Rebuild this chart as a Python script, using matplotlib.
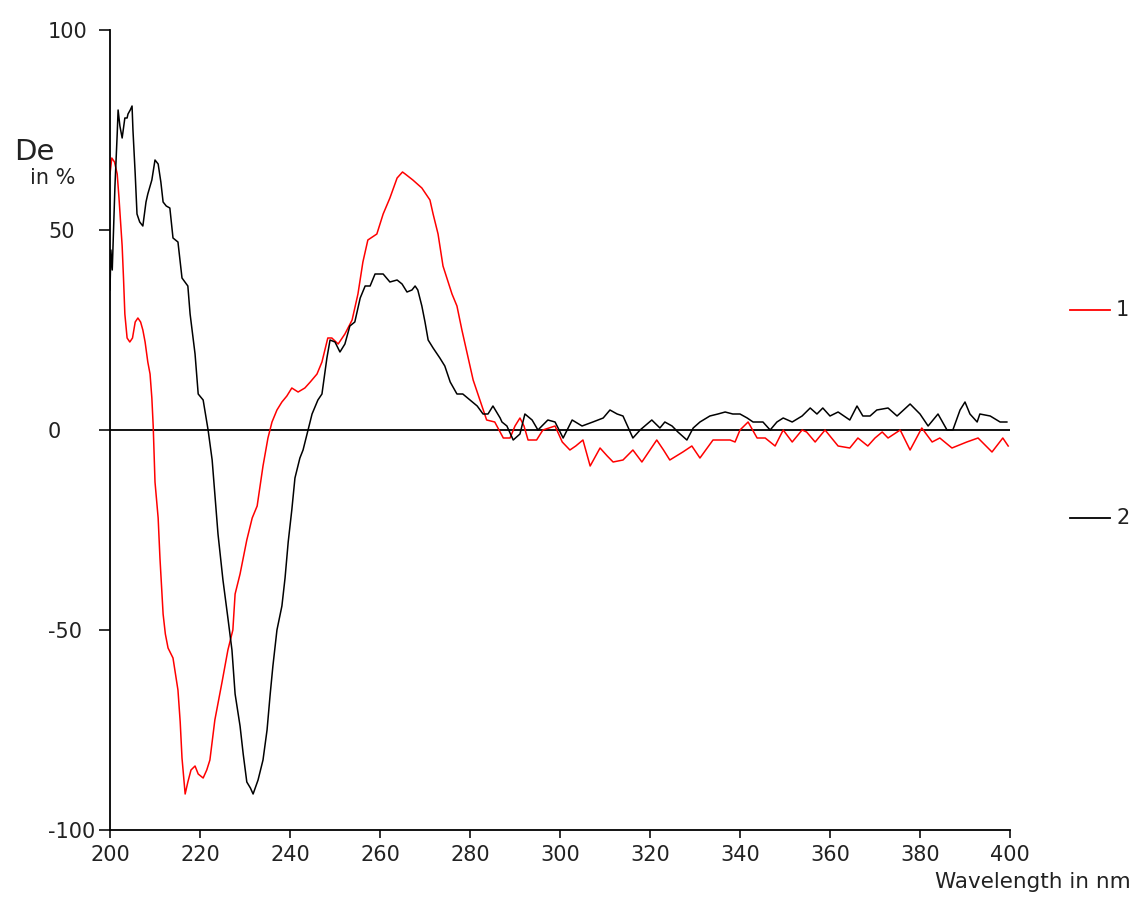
import matplotlib
matplotlib.use('Agg')
import matplotlib.pyplot as plt
from matplotlib.lines import Line2D

plt.rcParams['axes.unicode_minus'] = False

# spectrum 1 (red)
wl_1 = [200.0, 200.4, 201.0, 201.6, 202.0, 202.7, 203.0, 203.3, 203.8, 204.4,
        205.0, 205.6, 206.2, 206.8, 207.3, 207.8, 208.4, 208.9, 209.3, 209.6,
        210.0, 210.7, 211.1, 211.8, 212.3, 212.9, 214.0, 215.1, 215.6, 216.0,
        216.7, 217.3, 218.0, 218.9, 219.6, 220.7, 221.5, 222.2, 223.3, 224.9,
        226.2, 227.3, 227.8, 228.9, 230.4, 231.6, 232.7, 234.0, 235.1, 236.0,
        237.1, 238.2, 239.3, 240.4, 241.8, 243.3, 244.5, 246.0, 247.1, 248.4,
        249.3, 250.7, 252.2, 253.8, 255.1, 256.2, 257.3, 259.3, 260.7, 262.2,
        263.8, 265.0, 265.6, 267.3, 269.3, 271.1, 271.8, 272.9, 274.0, 276.0,
        277.1, 278.2, 279.6, 280.7, 282.2, 283.7, 285.5, 287.4, 288.9, 290.0,
        291.1, 292.0, 292.9, 294.8, 296.2, 298.9, 300.5, 302.2, 303.5, 305.1,
        306.7, 308.9, 310.5, 311.8, 314.0, 316.2, 318.2, 320.0, 321.5, 323.0,
        324.4, 327.3, 329.3, 331.1, 334.0, 337.8, 338.9, 340.0, 341.8, 343.8,
        345.6, 347.8, 349.6, 351.6, 353.8, 354.8, 356.7, 358.9, 361.8, 364.4,
        366.2, 368.4, 370.0, 371.6, 372.9, 375.6, 377.8, 380.4, 382.7, 384.4,
        387.1, 390.4, 392.9, 396.0, 398.4, 399.6]
de_1 = [64, 68, 67, 64, 58, 46, 38, 29, 23, 22,
        23, 27, 28, 27, 25, 22, 17, 14, 8, 1,
        -13, -22, -32, -46, -51, -54.5, -57, -65, -73, -82,
        -91, -88, -85, -84, -86, -87, -85, -82.5, -72.5, -63,
        -55, -50, -41, -36, -27.5, -22, -19, -9, -2, 2,
        5, 7, 8.5, 10.5, 9.5, 10.5, 12, 14, 17, 23,
        23, 21.5, 24, 27.5, 34, 42, 47.5, 49, 54, 58,
        63, 64.5, 64, 62.5, 60.5, 57.5, 54, 49, 41, 34,
        31, 25, 18, 12.5, 7.5, 2.5, 2, -2, -2, 1,
        3, 1, -2.5, -2.5, 0, 1, -3, -5, -4, -2.5,
        -9, -4.5, -6.5, -8, -7.5, -5, -8, -5, -2.5, -5,
        -7.5, -5.5, -4, -7, -2.5, -2.5, -3, 0, 2, -2,
        -2, -4, 0, -3, 0, -0.5, -3, 0, -4, -4.5,
        -2, -4, -2, -0.5, -2, 0, -5, 0.5, -3, -2,
        -4.5, -3, -2, -5.5, -2, -4]

# spectrum 2 (black)
wl_2 = [200.0, 200.2, 200.5, 201.1, 201.6, 201.8, 202.2, 202.7, 203.3, 203.8,
        204.0, 204.5, 204.9, 205.1, 205.6, 206.0, 206.6, 207.3, 208.0, 208.4,
        209.3, 210.0, 210.7, 211.3, 211.8, 212.5, 213.3, 214.0, 215.1, 216.0,
        217.3, 217.8, 218.9, 219.6, 220.7, 221.8, 222.7, 223.3, 224.0, 225.1,
        226.2, 227.1, 227.8, 228.9, 229.6, 230.4, 231.2, 231.8, 232.9, 234.0,
        234.9, 235.6, 236.2, 237.1, 238.2, 238.9, 239.6, 240.4, 241.1, 242.2,
        242.9, 244.0, 244.9, 246.2, 247.1, 248.2, 248.9, 250.0, 251.1, 252.2,
        253.3, 254.4, 255.6, 256.7, 257.8, 258.9, 260.7, 262.2, 263.8, 264.9,
        266.0, 267.1, 267.8, 268.4, 269.3, 270.0, 270.7, 271.8, 273.3, 274.4,
        275.6, 277.1, 278.4, 280.0, 281.6, 282.9, 284.0, 285.1, 286.7, 287.1,
        288.2, 289.6, 291.1, 292.2, 293.8, 295.1, 297.3, 298.9, 300.7, 302.7,
        304.9, 307.3, 309.6, 311.1, 312.7, 314.0, 316.2, 317.8, 320.4, 322.2,
        323.3, 324.9, 326.2, 328.2, 329.6, 331.1, 333.3, 335.1, 336.7, 338.4,
        340.0, 341.6, 342.9, 345.1, 346.7, 348.2, 349.6, 351.6, 353.8, 355.6,
        357.1, 358.4, 360.0, 361.8, 364.4, 366.0, 367.3, 368.9, 370.4, 372.9,
        374.9, 377.8, 380.0, 381.8, 384.0, 386.0, 387.3, 388.9, 390.0, 391.1,
        392.7, 393.3, 395.6, 397.8, 399.3]
de_2 = [35, 45, 40, 61, 74, 80, 76, 73, 78, 78,
        79, 80, 81, 75, 64, 54, 52, 51, 57, 59,
        62.5, 67.5, 66.5, 62, 57, 56, 55.5, 48, 47, 38,
        36, 29, 19, 9, 7.5, 0, -7.5, -16, -26, -37.5,
        -47, -55, -66, -74, -81, -88, -89.5, -91, -87.5, -82.5,
        -75, -66, -59, -50, -44, -37, -28, -20, -12, -7,
        -5, 0, 4, 7.5, 9, 18, 22.5, 22, 19.5, 21.5,
        26, 27, 33, 36, 36, 39, 39, 37, 37.5, 36.5,
        34.5, 35, 36, 35, 31, 27, 22.5, 20.5, 18, 16,
        12, 9, 9, 7.5, 6, 4, 4, 6, 3, 2,
        1, -2.5, -1, 4, 2.5, 0, 2.5, 2, -2, 2.5,
        1, 2, 3, 5, 4, 3.5, -2, 0, 2.5, 0.5,
        2, 1, -0.5, -2.5, 0.5, 2, 3.5, 4, 4.5, 4,
        4, 3, 2, 2, 0, 2, 3, 2, 3.5, 5.5,
        4, 5.5, 3.5, 4.5, 2.5, 6, 3.5, 3.5, 5, 5.5,
        3.5, 6.5, 4, 1, 4, 0, 0, 5, 7, 4,
        2, 4, 3.5, 2, 2]

x_ticks = [200, 220, 240, 260, 280, 300, 320, 340, 360, 380, 400]
y_ticks = [-100, -50, 0, 50, 100]
labels = ['1', '2']
colors = ['#ff0000', 'black']

W, H = 1138, 897
fig = plt.figure(figsize=(W / 100, H / 100), dpi=100)
ax = fig.add_axes([110 / W, 1 - 830 / H, 900 / W, 800 / H])

ax.plot(wl_1, de_1, color=colors[0], lw=1.1)
ax.plot(wl_2, de_2, color=colors[1], lw=1.1)
ax.axhline(0, color='black', lw=1.3, zorder=1)

ax.set_xlim(200, 400)
ax.set_ylim(-100, 100)
ax.set_xticks(x_ticks)
ax.set_yticks(y_ticks)
ax.spines['top'].set_visible(False)
ax.spines['right'].set_visible(False)
for s in ('left', 'bottom'):
    ax.spines[s].set_linewidth(1.3)
ax.tick_params(direction='out', width=1.3, labelsize=15, colors='#222222')
ax.tick_params(axis='x', length=6, pad=5)
# y labels in the reference are left aligned, starting at x~48px
ax.tick_params(axis='y', length=8, pad=(110 - 11 - 48) * 0.72)
for t in ax.get_yticklabels():
    t.set_horizontalalignment('left')

fig.text(14 / W, 1 - 152 / H, 'De', fontsize=21, color='#222222', va='center')
fig.text(30 / W, 1 - 178 / H, 'in %', fontsize=15, color='#222222', va='center')
fig.text(1131 / W, 1 - 888 / H, 'Wavelength in nm', fontsize=15.5, color='#222222',
         ha='right', va='baseline')

# legend drawn by hand: two entries far apart at the right
for lab, col, ypx in zip(labels, colors, [310, 518]):
    fig.add_artist(Line2D([1070 / W, 1110 / W], [1 - ypx / H, 1 - ypx / H],
                          color=col, lw=1.3, transform=fig.transFigure))
    fig.text(1116 / W, 1 - ypx / H, lab, fontsize=15, color='#222222', va='center')

fig.savefig('out.png', dpi=100)
